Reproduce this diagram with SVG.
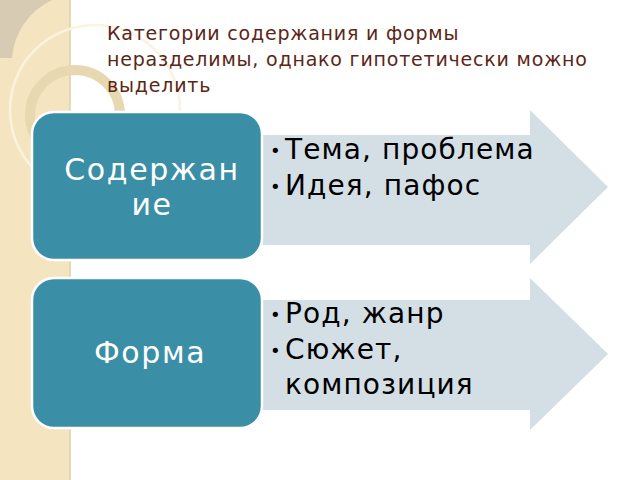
<svg xmlns="http://www.w3.org/2000/svg" width="640" height="480" viewBox="0 0 640 480">
<style>
.t{font-family:"DejaVu Sans",sans-serif}
.box{fill:#3a8fa6;stroke:#fff;stroke-width:2.5}
.arr{fill:#d4dee5}
.lbl{fill:#fff;font-size:30px;letter-spacing:1.6px;text-anchor:middle}
.it{fill:#000;font-size:28px;letter-spacing:1.1px}
.b{fill:#000;font-size:18px}
</style>
<rect width="640" height="480" fill="#fff"/>
<g id="strip">
<rect x="0" y="0" width="70" height="480" fill="#f4e4bf"/>
<line x1="70" y1="0" x2="70" y2="480" stroke="#e2cfa3" stroke-width="1.5"/>
<path d="M0,0 H52 A70,70 0 0 0 12,58 H0 Z" fill="#d7cbb4"/>
<circle cx="95" cy="110" r="85" fill="none" stroke="#fbf3df" stroke-width="2.5"/>
<circle cx="75" cy="115" r="45" fill="none" stroke="#e8d8b2" stroke-width="10"/>
</g>
<g id="title" class="t" fill="#5b2616" font-size="19" letter-spacing="0.8">
<text x="107" y="40">Категории содержания и формы</text>
<text x="107" y="66">неразделимы, однако гипотетически можно</text>
<text x="107" y="92">выделить</text>
</g>
<g id="connectors">
<path class="arr" d="M240,135 H530 V110 L608,187 L530,264 V245 H240 Z"/>
<path class="arr" d="M240,300 H530 V278 L608,354 L530,430 V410 H240 Z"/>
</g>
<g id="content" class="t">
<rect class="box" x="32" y="112" width="230" height="148" rx="22"/>
<text class="lbl" x="152" y="180">Содержан</text>
<text class="lbl" x="152" y="215">ие</text>
<text class="b" x="270" y="157">•</text><text class="it" x="285" y="159">Тема, проблема</text>
<text class="b" x="270" y="193">•</text><text class="it" x="285" y="195">Идея, пафос</text>
</g>
<g id="form" class="t">
<rect class="box" x="32" y="278" width="230" height="150" rx="22"/>
<text class="lbl" x="150" y="363">Форма</text>
<text class="b" x="270" y="321">•</text><text class="it" x="285" y="323">Род, жанр</text>
<text class="b" x="270" y="357">•</text><text class="it" x="285" y="359">Сюжет,</text>
<text class="it" x="285" y="394">композиция</text>
</g>
</svg>
